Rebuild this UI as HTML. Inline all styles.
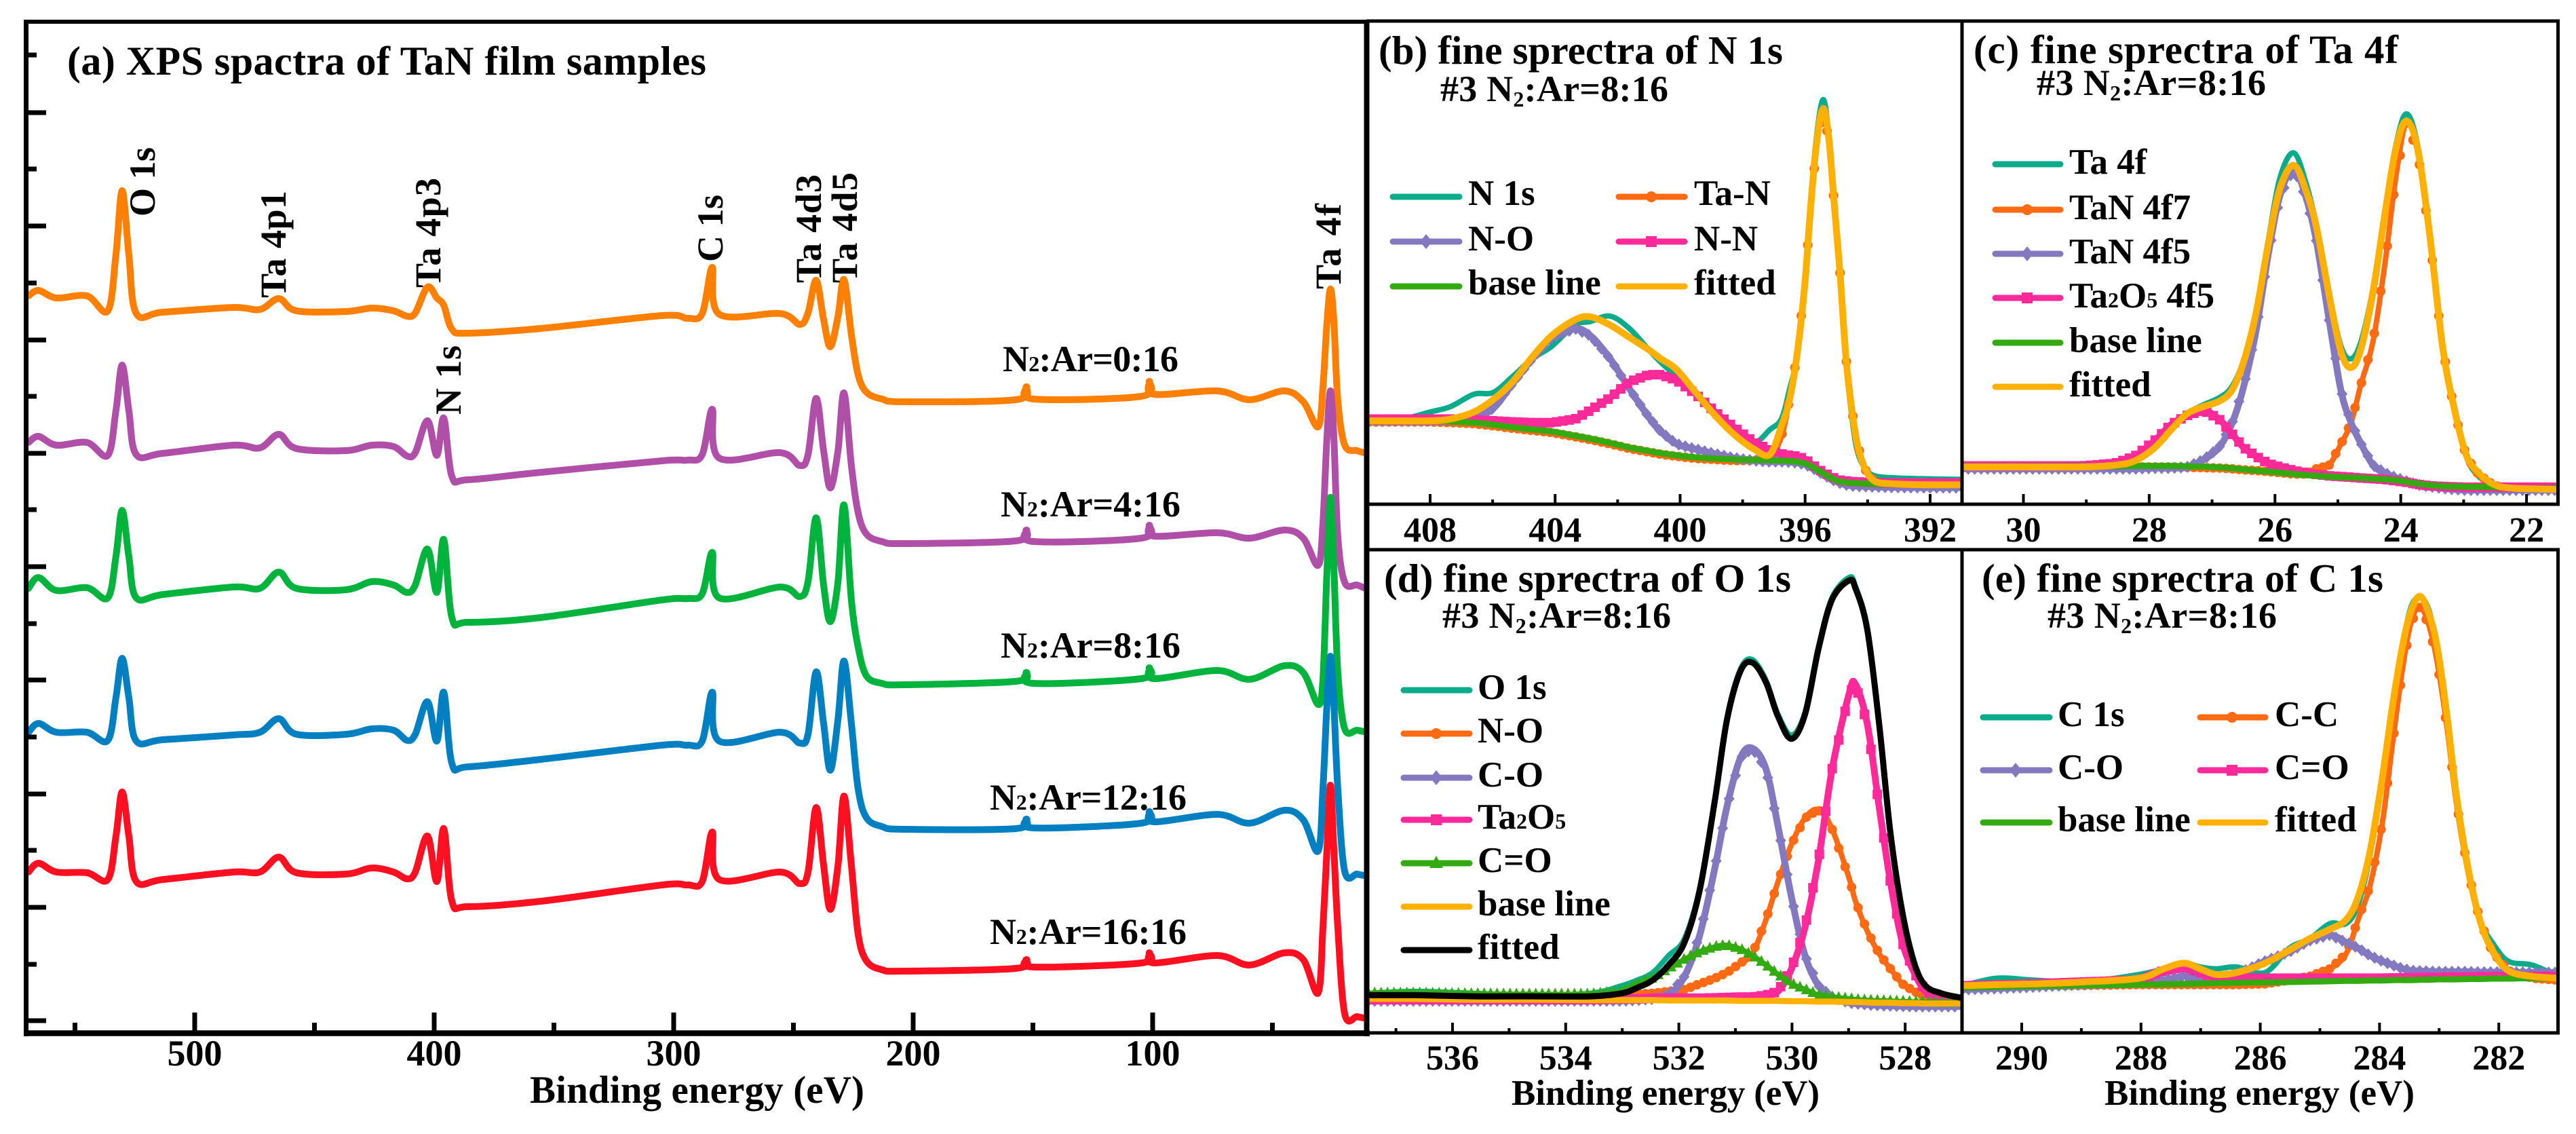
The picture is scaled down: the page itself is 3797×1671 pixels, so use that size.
<!DOCTYPE html>
<html lang="en">
<head>
<meta charset="utf-8">
<title>XPS spectra of TaN film samples</title>
<style>
html,body{margin:0;padding:0;background:#fff;width:3797px;height:1671px;overflow:hidden}
svg{display:block}
text{font-family:"Liberation Serif",serif;font-weight:bold;fill:#000}
.t{font-size:59px}.s{font-size:54px}.l{font-size:53px}.p{font-size:52px}.ax{font-size:53px}
.sw{stroke-width:9;stroke-linecap:round}
.f{stroke:#000;fill:none}
</style>
</head>
<body>
<svg id="figure" xmlns="http://www.w3.org/2000/svg" width="3797" height="1671" viewBox="0 0 3797 1671">
<defs>
<clipPath id="clipA"><rect x="42" y="35" width="1969" height="1483"/></clipPath>
<clipPath id="clipB"><rect x="2018" y="34" width="872" height="707"/></clipPath>
<clipPath id="clipC"><rect x="2894" y="34" width="874" height="707"/></clipPath>
<clipPath id="clipD"><rect x="2018" y="813" width="872" height="707"/></clipPath>
<clipPath id="clipE"><rect x="2894" y="813" width="874" height="707"/></clipPath>
</defs>
<rect width="3797" height="1671" fill="#fff"/>

<g id="marksA"></g>
<g id="marksB"></g>
<g id="marksC"></g>
<g id="marksD"></g>
<g id="marksE"></g>
<g id="ticks"></g>

<g>
<line class="f" x1="38.5" y1="29" x2="38.5" y2="1527" stroke-width="7"/>
<line class="f" x1="35" y1="32" x2="2014" y2="32" stroke-width="6"/>
<line class="f" x1="35" y1="1522.5" x2="2019" y2="1522.5" stroke-width="8.5"/>
<line class="f" x1="2014.5" y1="29" x2="2014.5" y2="1527" stroke-width="8"/>
<line class="f" x1="2014" y1="31" x2="3773" y2="31" stroke-width="5"/>
<line class="f" x1="2014" y1="743" x2="3773" y2="743" stroke-width="5"/>
<line class="f" x1="2014" y1="810" x2="3773" y2="810" stroke-width="5"/>
<line class="f" x1="2014" y1="1522" x2="3773" y2="1522" stroke-width="5"/>
<line class="f" x1="2892" y1="29" x2="2892" y2="745" stroke-width="5"/>
<line class="f" x1="2892" y1="808" x2="2892" y2="1524" stroke-width="5"/>
<line class="f" x1="3770.5" y1="29" x2="3770.5" y2="745" stroke-width="5"/>
<line class="f" x1="3770.5" y1="808" x2="3770.5" y2="1524" stroke-width="5"/>
</g>

<g>
<text x="99" y="110" font-size="60" textLength="942">(a) XPS spactra of TaN film samples</text>
<text class="t" x="2032" y="94" textLength="596">(b) fine sprectra of N 1s</text>
<text class="s" x="2123" y="149" textLength="336">#3 N<tspan font-size="32" dy="8">2</tspan><tspan dy="-8">:Ar=8:16</tspan></text>
<text class="t" x="2909" y="93" textLength="626">(c) fine sprectra of Ta 4f</text>
<text class="s" x="3002" y="140" textLength="338">#3 N<tspan font-size="32" dy="8">2</tspan><tspan dy="-8">:Ar=8:16</tspan></text>
<text class="t" x="2040" y="872" textLength="600">(d) fine sprectra of O 1s</text>
<text class="s" x="2126" y="925" textLength="337">#3 N<tspan font-size="32" dy="8">2</tspan><tspan dy="-8">:Ar=8:16</tspan></text>
<text class="t" x="2921" y="872" textLength="592">(e) fine sprectra of C 1s</text>
<text class="s" x="3018" y="925" textLength="338">#3 N<tspan font-size="32" dy="8">2</tspan><tspan dy="-8">:Ar=8:16</tspan></text>
</g>

<g>
<text x="781" y="1625" font-size="57" textLength="493">Binding energy (eV)</text>
<text class="ax" x="2228" y="1628" textLength="454">Binding energy (eV)</text>
<text class="ax" x="3102" y="1628" textLength="457">Binding energy (eV)</text>
</g>

<g font-size="54">
<text transform="translate(228,319) rotate(-90)" textLength="102">O 1s</text>
<text transform="translate(421,439) rotate(-90)" textLength="158">Ta 4p1</text>
<text transform="translate(649,424) rotate(-90)" textLength="162">Ta 4p3</text>
<text transform="translate(679,611) rotate(-90)" textLength="102">N 1s</text>
<text transform="translate(1065,386) rotate(-90)" textLength="99">C 1s</text>
<text transform="translate(1210,417) rotate(-90)" textLength="160">Ta 4d3</text>
<text transform="translate(1263,417) rotate(-90)" textLength="163">Ta 4d5</text>
<text transform="translate(1976,426) rotate(-90)" textLength="126">Ta 4f</text>
</g>

<g>
<text font-size="54" x="1478" y="547" textLength="259">N<tspan font-size="32">2</tspan>:Ar=0:16</text>
<text font-size="54" x="1475" y="761" textLength="265">N<tspan font-size="32">2</tspan>:Ar=4:16</text>
<text font-size="54" x="1475" y="969" textLength="265">N<tspan font-size="32">2</tspan>:Ar=8:16</text>
<text font-size="54" x="1459" y="1193" textLength="290">N<tspan font-size="32">2</tspan>:Ar=12:16</text>
<text font-size="54" x="1459" y="1391" textLength="290">N<tspan font-size="32">2</tspan>:Ar=16:16</text>
</g>

<g>
<g><line class="sw" x1="2053" x2="2151" y1="290" y2="290" stroke="#0aab8a"/><text class="l" x="2164" y="302">N 1s</text></g>
<g><line class="sw" x1="2386" x2="2483" y1="290" y2="290" stroke="#ff6a13"/><circle cx="2434" cy="290" r="8" fill="#ff6a13"/><text class="l" x="2497" y="302">Ta-N</text></g>
<g><line class="sw" x1="2053" x2="2151" y1="356" y2="356" stroke="#8478c0"/><path d="M2102 345l9 11-9 11-9-11z" fill="#8478c0"/><text class="l" x="2164" y="369">N-O</text></g>
<g><line class="sw" x1="2386" x2="2483" y1="356" y2="356" stroke="#ff2a9a"/><rect x="2426" y="348" width="16" height="16" fill="#ff2a9a"/><text class="l" x="2497" y="369">N-N</text></g>
<g><line class="sw" x1="2053" x2="2151" y1="422" y2="422" stroke="#33aa10"/><text class="l" x="2164" y="434">base line</text></g>
<g><line class="sw" x1="2386" x2="2483" y1="422" y2="422" stroke="#ffb000"/><text class="l" x="2497" y="434">fitted</text></g>
</g>

<g>
<g><line class="sw" x1="2941" x2="3037" y1="242" y2="242" stroke="#0aab8a"/><text class="l" x="3050" y="256">Ta 4f</text></g>
<g><line class="sw" x1="2941" x2="3037" y1="309" y2="309" stroke="#ff6a13"/><circle cx="2988" cy="309" r="8" fill="#ff6a13"/><text class="l" x="3050" y="323">TaN 4f7</text></g>
<g><line class="sw" x1="2941" x2="3037" y1="374" y2="374" stroke="#8478c0"/><path d="M2988 363l9 11-9 11-9-11z" fill="#8478c0"/><text class="l" x="3050" y="388">TaN 4f5</text></g>
<g><line class="sw" x1="2941" x2="3037" y1="439" y2="439" stroke="#ff2a9a"/><rect x="2980" y="431" width="16" height="16" fill="#ff2a9a"/><text class="l" x="3050" y="453">Ta<tspan font-size="32">2</tspan>O<tspan font-size="32">5</tspan> 4f5</text></g>
<g><line class="sw" x1="2941" x2="3037" y1="505" y2="505" stroke="#33aa10"/><text class="l" x="3050" y="519">base line</text></g>
<g><line class="sw" x1="2941" x2="3037" y1="570" y2="570" stroke="#ffb000"/><text class="l" x="3050" y="584">fitted</text></g>
</g>

<g>
<g><line class="sw" x1="2069" x2="2166" y1="1017" y2="1017" stroke="#0aab8a"/><text class="l" x="2178" y="1030">O 1s</text></g>
<g><line class="sw" x1="2069" x2="2166" y1="1081" y2="1081" stroke="#ff6a13"/><circle cx="2117" cy="1081" r="8" fill="#ff6a13"/><text class="l" x="2178" y="1094">N-O</text></g>
<g><line class="sw" x1="2069" x2="2166" y1="1146" y2="1146" stroke="#8478c0"/><path d="M2117 1135l9 11-9 11-9-11z" fill="#8478c0"/><text class="l" x="2178" y="1159">C-O</text></g>
<g><line class="sw" x1="2069" x2="2166" y1="1208" y2="1208" stroke="#ff2a9a"/><rect x="2109" y="1200" width="16" height="16" fill="#ff2a9a"/><text class="l" x="2178" y="1221">Ta<tspan font-size="32">2</tspan>O<tspan font-size="32">5</tspan></text></g>
<g><line class="sw" x1="2069" x2="2166" y1="1272" y2="1272" stroke="#33aa10"/><path d="M2117 1261l10 18h-20z" fill="#33aa10"/><text class="l" x="2178" y="1285">C=O</text></g>
<g><line class="sw" x1="2069" x2="2166" y1="1336" y2="1336" stroke="#ffb000"/><text class="l" x="2178" y="1349">base line</text></g>
<g><line class="sw" x1="2069" x2="2166" y1="1400" y2="1400" stroke="#000"/><text class="l" x="2178" y="1413">fitted</text></g>
</g>

<g>
<g><line class="sw" x1="2923" x2="3021" y1="1057" y2="1057" stroke="#0aab8a"/><text class="l" x="3033" y="1070">C 1s</text></g>
<g><line class="sw" x1="3243" x2="3339" y1="1057" y2="1057" stroke="#ff6a13"/><circle cx="3290" cy="1057" r="8" fill="#ff6a13"/><text class="l" x="3353" y="1070">C-C</text></g>
<g><line class="sw" x1="2923" x2="3021" y1="1135" y2="1135" stroke="#8478c0"/><path d="M2971 1124l9 11-9 11-9-11z" fill="#8478c0"/><text class="l" x="3033" y="1148">C-O</text></g>
<g><line class="sw" x1="3243" x2="3339" y1="1135" y2="1135" stroke="#ff2a9a"/><rect x="3282" y="1127" width="16" height="16" fill="#ff2a9a"/><text class="l" x="3353" y="1148">C=O</text></g>
<g><line class="sw" x1="2923" x2="3021" y1="1212" y2="1212" stroke="#33aa10"/><text class="l" x="3033" y="1225">base line</text></g>
<g><line class="sw" x1="3243" x2="3339" y1="1212" y2="1212" stroke="#ffb000"/><text class="l" x="3353" y="1225">fitted</text></g>
</g>
</svg>

<script>
// ---------- Panel (a) survey spectra ----------
const energyA = [569.4,565.2,557.8,545.0,536.3,532.9,530.3,527.5,524.4,513.3,483.9,472.8,464.9,457.5,436.8,426.1,417.0,411.3,407.9,402.8,398.9,396.0,392.6,386.1,355.5,304.8,294.3,288.1,283.9,281.0,255.5,247.3,243.9,240.5,237.4,234.6,231.4,228.9,225.8,223.0,219.5,213.0,204.0,157.2,152.7,149.6,104.8,101.4,99.4,73.1,59.5,45.0,37.1,30.9,28.9,27.3,25.8,24.4,22.7,19.8,14.7,11.9];
const survey0of16 = [1068,1076,1065,1068,1046,1129,1223,1129,1042,1044,1051,1048,1064,1046,1045,1050,1046,1038,1043,1081,1065,1054,1019,1013,1020,1039,1035,1042,1110,1041,1042,1026,1043,1091,1033,993,1038,1092,1011,952,926,916,912,915,934,916,920,942,923,928,915,928,912,875,934,1024,1078,1034,914,848,840,837];
const survey4of16 = [852,861,848,852,833,899,966,899,834,836,848,844,864,843,840,848,846,832,837,884,833,888,802,797,808,825,826,834,901,829,837,818,834,917,840,785,840,925,818,749,717,706,703,707,723,706,711,730,714,719,711,723,711,671,734,854,928,864,714,646,642,638];
const survey8of16 = [637,653,634,638,623,684,752,684,623,628,639,637,661,637,635,647,642,631,642,695,631,709,594,587,594,620,622,629,690,623,639,625,647,741,642,588,647,760,620,551,508,497,495,500,513,497,504,520,504,516,503,523,513,466,504,654,771,674,514,430,428,426];
const survey12of16 = [425,438,425,425,413,476,534,476,412,414,421,425,445,422,422,430,428,413,422,470,412,484,379,374,385,406,406,412,484,412,425,409,422,514,438,369,444,530,438,342,299,286,282,283,297,284,291,308,293,304,291,310,296,250,342,460,537,470,342,220,216,214];
const survey16of16 = [219,232,219,218,208,272,337,272,205,208,219,219,241,218,216,225,219,209,219,272,205,283,176,168,176,200,200,205,278,208,219,202,219,314,229,164,229,331,229,128,88,75,73,77,90,79,85,100,85,96,82,100,90,41,138,246,347,256,138,10,6,4];
const majorTicksA = [500,400,300,200,100];
const minorTicksA = [550,450,350,250,150,50];
const yMajorTicksA = [0,167,334,502,669,836,1003,1171,1338];
const yMinorTicksA = [83,251,418,585,753,920,1087,1255,1423];

// ---------- Panel (b) N 1s ----------
const energyB = [409.94,409.10,408,407.35,406.6,405.98,405.36,404.73,404.11,403.36,402.87,402.24,401.62,401.0,400.62,400.12,399.5,398.88,398.25,397.63,397.13,396.76,396.51,396.26,396.01,395.82,395.63,395.42,395.24,395.08,394.89,394.7,394.51,394.33,394.08,393.77,393.27,392.27,391.03];
const n1sRaw = [233,233,258,273,308,313,358,408,443,503,513,528,493,433,398,358,308,248,213,173,208,238,318,418,638,858,1038,1138,1038,858,648,408,248,148,98,78,73,70,68];
const n1sTaN = [230,230,230,228,225,219,212,206,200,188,180,168,155,145,139,133,127,124,121,122,128,188,288,418,618,838,1018,1108,1023,858,658,418,268,168,96,60,52,51,51];
const n1sNO = [233,233,233,235,243,268,338,408,468,493,473,408,323,243,203,168,153,140,128,121,118,118,117,115,110,103,93,82,73,65,58,53,50,49,48,47,46,45,45];
const n1sNN = [238,238,238,238,236,233,230,228,228,238,263,298,343,363,363,348,308,258,213,173,150,140,136,133,126,113,100,88,80,72,66,64,62,61,60,59,58,58,58];
const n1sBase = [233,233,233,231,228,222,215,209,203,191,183,171,158,148,142,136,130,127,124,123,122,121,120,118,113,106,96,85,76,68,62,60,58,57,56,55,54,53,53];
const n1sFit = [233,233,233,238,258,293,343,413,473,518,526,503,468,433,408,378,313,248,193,153,138,218,288,418,618,838,1018,1113,1028,858,658,418,268,168,98,63,56,53,53];
const majorTicksB = [408,404,400,396,392];
const minorTicksB = [406,402,398,394];

// ---------- Panel (c) Ta 4f ----------
const energyC = [30.98,30.03,29.07,28.55,28.23,27.91,27.65,27.4,27.14,26.89,26.69,26.5,26.3,26.11,25.92,25.7,25.5,25.34,25.14,24.95,24.79,24.63,24.44,24.25,24.08,23.91,23.73,23.54,23.34,23.15,22.96,22.77,22.51,22.19,21.53];
const ta4fRaw = [103,103,103,108,120,158,208,253,278,298,328,403,543,738,918,988,898,783,593,443,408,458,608,828,1008,1098,1008,768,453,268,133,78,50,42,40];
const ta4fTaN7 = [102,102,102,102,103,103,103,102,101,100,98,95,93,90,87,83,83,98,108,168,228,338,458,678,918,1073,988,748,443,263,133,83,50,42,40];
const ta4fTaN5 = [98,98,98,98,98,100,100,103,123,158,223,328,488,698,868,943,858,738,518,318,228,168,108,86,73,63,53,48,43,40,38,38,38,38,38];
const ta4fTa2O5 = [106,106,106,113,133,178,223,248,263,238,198,158,133,113,103,93,86,82,78,76,74,72,70,68,64,60,54,50,48,47,46,46,46,46,46];
const ta4fBase = [105,105,105,105,106,106,106,105,104,102,100,96,93,90,87,83,80,78,76,74,73,72,70,68,66,61,56,52,49,48,47,47,46,43,43];
const ta4fFit = [103,103,103,108,120,158,208,253,273,288,318,398,538,728,888,953,878,778,588,428,383,438,598,818,998,1078,998,758,448,268,138,88,53,43,40];
const majorTicksC = [30,28,26,24,22];
const minorTicksC = [29,27,25,23];

// ---------- Panel (d) O 1s ----------
const energyD = [537.49,536.66,535.63,534.59,533.56,533.01,532.73,532.46,532.18,531.9,531.63,531.36,531.15,530.91,530.7,530.46,530.25,530.01,529.77,529.53,529.29,528.99,528.88,528.67,528.46,528.26,528.05,527.84,527.64,527.36,527.02];
const o1sRaw = [105,110,105,100,105,125,140,160,205,250,385,620,835,965,990,935,845,790,850,1025,1155,1208,1185,1075,825,535,325,190,125,105,95];
const o1sNO = [95,95,95,95,95,100,103,105,110,115,130,145,160,185,210,300,400,500,570,592,540,410,350,270,210,170,130,110,95,85,80];
const o1sCO = [85,85,85,85,85,85,87,90,100,150,260,440,600,730,755,700,550,360,205,125,95,80,78,75,73,72,71,70,70,70,70];
const o1sTa2O5 = [88,88,88,88,88,90,90,92,92,92,92,93,94,95,95,100,110,170,280,460,700,900,925,820,600,400,240,160,110,90,78];
const o1sCdO = [105,105,103,102,102,110,130,145,170,195,215,228,232,222,205,180,155,130,115,100,95,90,88,86,85,84,83,82,81,80,80];
const o1sBase = [90,90,88,88,87,87,87,87,86,86,86,86,86,85,85,85,85,84,84,83,83,82,82,81,80,80,79,79,78,78,78];
const o1sFit = [100,100,97,97,97,105,120,140,180,240,380,620,830,960,982,930,840,780,845,1020,1150,1200,1180,1070,820,530,320,185,125,105,93];
const majorTicksD = [536,534,532,530,528];
const minorTicksD = [537,535,533,531,529];

// ---------- Panel (e) C 1s ----------
const energyE = [291.0,290.41,289.8,288.98,288.03,287.62,287.28,287.01,286.74,286.4,285.92,285.51,285.17,284.83,284.56,284.36,284.16,283.95,283.78,283.61,283.47,283.32,283.17,283.03,282.86,282.72,282.52,282.32,282.11,281.84,281.44,281.01];
const c1sRaw = [125,145,140,135,155,170,185,175,170,175,160,225,250,290,290,340,470,680,860,1030,1130,1155,1120,1010,820,620,430,300,240,190,180,150];
const c1sCC = [120,122,124,126,128,128,128,128,128,128,130,140,150,170,210,300,390,560,770,970,1090,1130,1080,980,800,620,430,300,215,165,145,140];
const c1sCO = [115,118,122,128,135,140,150,140,145,155,190,215,245,260,240,225,205,190,180,170,165,164,163,162,162,162,162,161,161,161,160,160];
const c1sCdO = [125,127,130,135,140,165,175,160,145,145,145,145,145,145,145,145,145,145,146,146,146,147,147,147,148,148,148,149,149,149,150,150];
const c1sBase = [120,122,124,126,128,129,130,131,132,133,134,135,136,137,138,138,139,139,140,140,140,141,141,142,142,142,143,143,144,144,145,145];
const c1sFit = [125,128,130,135,145,170,185,170,155,160,185,220,250,275,300,360,480,680,870,1030,1120,1158,1110,1020,830,640,440,300,220,165,150,145];
const majorTicksE = [290,288,286,284,282];
const minorTicksE = [289,287,285,283];

// ---------- Axis functions ----------
const xA = e => 287 + (500 - e) * 3.53;
const yA = v => 1504 - v;
const xB = e => 2108 + (408 - e) * 46.06;
const xC = e => 2982.5 + (30 - e) * 92.7;
const yTop = v => 742 - v / 1.912;
const xD = e => 2141 + (536 - e) * 83.4;
const xE = e => 2980 + (290 - e) * 87.9;
const yBottom = v => 1522 - v / 1.8;

const NS = 'http://www.w3.org/2000/svg';
function make(tag, attrs, parent) {
  const node = document.createElementNS(NS, tag);
  for (const k in attrs) node.setAttribute(k, attrs[k]);
  parent.appendChild(node);
  return node;
}

function smoothPath(pts) {
  let d = 'M' + pts[0][0].toFixed(1) + ' ' + pts[0][1].toFixed(1);
  for (let i = 0; i < pts.length - 1; i++) {
    const p0 = pts[Math.max(0, i - 1)], p1 = pts[i], p2 = pts[i + 1], p3 = pts[Math.min(pts.length - 1, i + 2)];
    const c1x = p1[0] + (p2[0] - p0[0]) / 6, c1y = p1[1] + (p2[1] - p0[1]) / 6;
    const c2x = p2[0] - (p3[0] - p1[0]) / 6, c2y = p2[1] - (p3[1] - p1[1]) / 6;
    d += 'C' + c1x.toFixed(1) + ' ' + c1y.toFixed(1) + ' ' + c2x.toFixed(1) + ' ' + c2y.toFixed(1) + ' ' + p2[0].toFixed(1) + ' ' + p2[1].toFixed(1);
  }
  return d;
}

function addMarker(parent, kind, x, y, color, name) {
  let m;
  if (kind === 'circle') {
    m = make('circle', {cx: x.toFixed(1), cy: y.toFixed(1), r: 7, fill: color}, parent);
  } else if (kind === 'diamond') {
    m = make('path', {d: 'M' + x.toFixed(1) + ' ' + (y - 9).toFixed(1) + 'l8 9-8 9-8-9z', fill: color}, parent);
  } else if (kind === 'square') {
    m = make('rect', {x: (x - 7).toFixed(1), y: (y - 7).toFixed(1), width: 14, height: 14, fill: color}, parent);
  } else {
    m = make('path', {d: 'M' + x.toFixed(1) + ' ' + (y - 10).toFixed(1) + 'l8 16h-16z', fill: color}, parent);
  }
  
  
}

function drawSeries(groupId, clipId, name, energies, values, xFn, yFn, color, width, marker) {
  const root = document.getElementById(groupId);
  const g = make('g', {'clip-path': 'url(#' + clipId + ')'}, root);
  
  
  const pts = energies.map((e, i) => [xFn(e), yFn(values[i])]);
  const line = make('path', {d: smoothPath(pts), fill: 'none', stroke: color, 'stroke-width': width, 'stroke-linejoin': 'round', 'stroke-linecap': 'round'}, g);
  
  
  if (marker) {
    const step = 9.5;
    for (let i = 0; i < pts.length - 1; i++) {
      const a = pts[i], b = pts[i + 1];
      const firstN = Math.ceil((a[0] - pts[0][0]) / step);
      for (let n = firstN; pts[0][0] + n * step < b[0]; n++) {
        const sx = pts[0][0] + n * step;
        const t = (sx - a[0]) / (b[0] - a[0]);
        addMarker(g, marker, sx, a[1] + (b[1] - a[1]) * t, color, name);
      }
    }
  }
}

function drawXTicks(name, majors, minors, xFn, yAxis, majorLen, minorLen, tickW, labelY, fontSize) {
  const root = document.getElementById('ticks');
  majors.forEach(v => {
    const t = make('line', {x1: xFn(v), x2: xFn(v), y1: yAxis, y2: yAxis - majorLen, stroke: '#000', 'stroke-width': tickW}, root);
    
    
    const lab = make('text', {x: xFn(v), y: labelY, 'text-anchor': 'middle', 'font-size': fontSize}, root);
    lab.textContent = v;
    
    
  });
  minors.forEach(v => {
    const t = make('line', {x1: xFn(v), x2: xFn(v), y1: yAxis, y2: yAxis - minorLen, stroke: '#000', 'stroke-width': tickW}, root);
    
    
  });
}

function drawYTicksA() {
  const root = document.getElementById('ticks');
  yMajorTicksA.forEach(v => {
    const t = make('line', {x1: 42, x2: 68, y1: yA(v), y2: yA(v), stroke: '#000', 'stroke-width': 7}, root);
    
    
  });
  yMinorTicksA.forEach(v => {
    const t = make('line', {x1: 42, x2: 54, y1: yA(v), y2: yA(v), stroke: '#000', 'stroke-width': 7}, root);
    
    
  });
}

const TEAL = '#0aab8a', ORANGE = '#ff6a13', PURPLE = '#8478c0', PINK = '#ff2a9a', GREEN = '#33aa10', YELLOW = '#ffb000';

drawSeries('marksA', 'clipA', 'series-n2-ar-0-16', energyA, survey0of16, xA, yA, '#ff8000', 10);
drawSeries('marksA', 'clipA', 'series-n2-ar-4-16', energyA, survey4of16, xA, yA, '#b04fa8', 10);
drawSeries('marksA', 'clipA', 'series-n2-ar-8-16', energyA, survey8of16, xA, yA, '#00b33c', 10);
drawSeries('marksA', 'clipA', 'series-n2-ar-12-16', energyA, survey12of16, xA, yA, '#0080c0', 10);
drawSeries('marksA', 'clipA', 'series-n2-ar-16-16', energyA, survey16of16, xA, yA, '#ff1020', 10);

drawSeries('marksB', 'clipB', 'series-n-1s', energyB, n1sRaw, xB, yTop, TEAL, 8);
drawSeries('marksB', 'clipB', 'series-ta-n', energyB, n1sTaN, xB, yTop, ORANGE, 8, 'circle');
drawSeries('marksB', 'clipB', 'series-n-o', energyB, n1sNO, xB, yTop, PURPLE, 10, 'diamond');
drawSeries('marksB', 'clipB', 'series-n-n', energyB, n1sNN, xB, yTop, PINK, 10, 'square');
drawSeries('marksB', 'clipB', 'series-n-base-line', energyB, n1sBase, xB, yTop, GREEN, 9);
drawSeries('marksB', 'clipB', 'series-n-fitted', energyB, n1sFit, xB, yTop, YELLOW, 10);

drawSeries('marksC', 'clipC', 'series-ta-4f', energyC, ta4fRaw, xC, yTop, TEAL, 8);
drawSeries('marksC', 'clipC', 'series-tan-4f7', energyC, ta4fTaN7, xC, yTop, ORANGE, 8, 'circle');
drawSeries('marksC', 'clipC', 'series-tan-4f5', energyC, ta4fTaN5, xC, yTop, PURPLE, 10, 'diamond');
drawSeries('marksC', 'clipC', 'series-ta2o5-4f5', energyC, ta4fTa2O5, xC, yTop, PINK, 10, 'square');
drawSeries('marksC', 'clipC', 'series-ta-base-line', energyC, ta4fBase, xC, yTop, GREEN, 9);
drawSeries('marksC', 'clipC', 'series-ta-fitted', energyC, ta4fFit, xC, yTop, YELLOW, 10);

drawSeries('marksD', 'clipD', 'series-o-1s', energyD, o1sRaw, xD, yBottom, TEAL, 8);
drawSeries('marksD', 'clipD', 'series-o-n-o', energyD, o1sNO, xD, yBottom, ORANGE, 8, 'circle');
drawSeries('marksD', 'clipD', 'series-o-c-o', energyD, o1sCO, xD, yBottom, PURPLE, 10, 'diamond');
drawSeries('marksD', 'clipD', 'series-o-ta2o5', energyD, o1sTa2O5, xD, yBottom, PINK, 10, 'square');
drawSeries('marksD', 'clipD', 'series-o-c-double-o', energyD, o1sCdO, xD, yBottom, GREEN, 8, 'triangle');
drawSeries('marksD', 'clipD', 'series-o-base-line', energyD, o1sBase, xD, yBottom, YELLOW, 9);
drawSeries('marksD', 'clipD', 'series-o-fitted', energyD, o1sFit, xD, yBottom, '#000', 9);

drawSeries('marksE', 'clipE', 'series-c-1s', energyE, c1sRaw, xE, yBottom, TEAL, 8);
drawSeries('marksE', 'clipE', 'series-c-c', energyE, c1sCC, xE, yBottom, ORANGE, 8, 'circle');
drawSeries('marksE', 'clipE', 'series-c-o', energyE, c1sCO, xE, yBottom, PURPLE, 10, 'diamond');
drawSeries('marksE', 'clipE', 'series-c-double-o', energyE, c1sCdO, xE, yBottom, PINK, 10, 'square');
drawSeries('marksE', 'clipE', 'series-c-base-line', energyE, c1sBase, xE, yBottom, GREEN, 9);
drawSeries('marksE', 'clipE', 'series-c-fitted', energyE, c1sFit, xE, yBottom, YELLOW, 10);

drawXTicks('panel-a-x', majorTicksA, minorTicksA, xA, 1519, 27, 12, 7, 1570, 54);
drawXTicks('panel-b-x', majorTicksB, minorTicksB, xB, 742, 14, 6, 4, 798, 52);
drawXTicks('panel-c-x', majorTicksC, minorTicksC, xC, 742, 14, 6, 4, 798, 52);
drawXTicks('panel-d-x', majorTicksD, minorTicksD, xD, 1521, 14, 6, 4, 1576, 52);
drawXTicks('panel-e-x', majorTicksE, minorTicksE, xE, 1521, 14, 6, 4, 1576, 52);
drawYTicksA();
</script>
</body>
</html>
